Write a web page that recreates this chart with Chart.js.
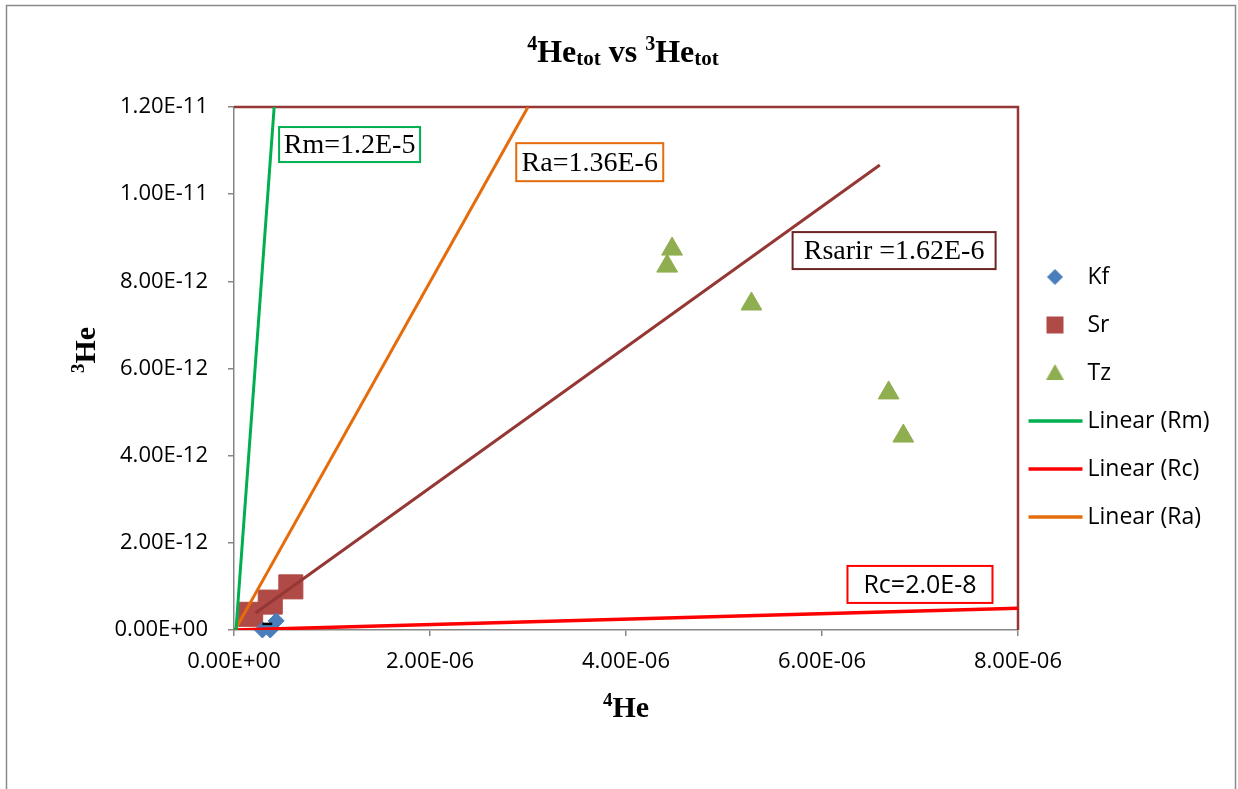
<!DOCTYPE html>
<html>
<head>
<meta charset="utf-8">
<script src="https://cdn.jsdelivr.net/npm/chart.js@4"></script>
<style>
html,body{margin:0;padding:0;background:#fff;}
canvas{display:block;}
</style>
</head>
<body>
<canvas id="c" width="1238" height="789"></canvas>
<script>
// ---------- data ----------
const kfHe4 = [0.29e-6, 0.37e-6, 0.43e-6];
const kfHe3 = [0.0, 0.0, 0.21e-12];
const srHe4 = [0.17e-6, 0.37e-6, 0.58e-6];
const srHe3 = [0.36e-12, 0.64e-12, 0.99e-12];
const tzHe4 = [4.47e-6, 4.42e-6, 5.28e-6, 6.68e-6, 6.83e-6];
const tzHe3 = [8.74e-12, 8.35e-12, 7.48e-12, 5.44e-12, 4.45e-12];
const rmHe4 = [0.02e-6, 0.41e-6];
const rmHe3 = [0.0, 12.0e-12];
const rcHe4 = [0.0, 8.0e-6];
const rcHe3 = [0.0, 0.5e-12];
const raHe4 = [0.01e-6, 3.0e-6];
const raHe3 = [0.0, 12.0e-12];
const rsHe4 = [0.22e-6, 6.59e-6];
const rsHe3 = [0.39e-12, 10.67e-12];
const dashHe4 = [0.29e-6, 0.39e-6];
const dashHe3 = [0.14e-12, 0.14e-12];

const xTickValues = [0, 2e-6, 4e-6, 6e-6, 8e-6];
const xTickLabels = ['0.00E+00', '2.00E-06', '4.00E-06', '6.00E-06', '8.00E-06'];
const yTickValues = [0, 2e-12, 4e-12, 6e-12, 8e-12, 10e-12, 12e-12];
const yTickLabels = ['0.00E+00', '2.00E-12', '4.00E-12', '6.00E-12', '8.00E-12', '1.00E-11', '1.20E-11'];

const annotationTexts = ['Rm=1.2E-5', 'Ra=1.36E-6', 'Rsarir =1.62E-6', 'Rc=2.0E-8'];
const annotationX = [0.46e-6, 2.88e-6, 5.70e-6, 6.26e-6];
const annotationY = [11.54e-12, 11.17e-12, 9.13e-12, 1.47e-12];

// ---------- styles ----------
const C_KF = '#4A7EBB', C_SR = '#B04A46', C_TZ = '#8FAE4F';
const C_RM = '#00B050', C_RC = '#FF0000', C_RA = '#E46C0A', C_RS = '#953735';
const AXIS_GRAY = '#868686';
const SANS = '"Open Sans", "DejaVu Sans", sans-serif';
const SERIF = '"Liberation Serif", "Times New Roman", serif';

const annotationStyles = [
  {color: C_RM, font: '28px ' + SERIF, w: 141, h: 35},
  {color: C_RA, font: '28px ' + SERIF, w: 147, h: 38},
  {color: '#6B2523', font: '28px ' + SERIF, w: 203, h: 37},
  {color: C_RC, font: '25px ' + SANS, w: 145, h: 37}
];

function pts(xs, ys) { return xs.map((x, i) => ({x: x, y: ys[i]})); }

// ---------- legend symbol images ----------
const LEG_W = 64, LEG_H = 22, LEG_CX = 27.5, LEG_CY = 11;
function legendImage(kind, color) {
  const c = document.createElement('canvas');
  c.width = LEG_W; c.height = LEG_H;
  const g = c.getContext('2d');
  g.fillStyle = color; g.strokeStyle = color;
  const cx = LEG_CX, cy = LEG_CY;
  g.beginPath();
  if (kind === 'diamond') {
    g.moveTo(cx - 8, cy); g.lineTo(cx, cy - 8); g.lineTo(cx + 8, cy); g.lineTo(cx, cy + 8); g.closePath(); g.fill();
  } else if (kind === 'square') {
    g.rect(cx - 8.5, cy - 8.5, 17, 17); g.fill();
  } else if (kind === 'triangle') {
    g.moveTo(cx, cy - 9); g.lineTo(cx + 9, cy + 7); g.lineTo(cx - 9, cy + 7); g.closePath(); g.fill();
  } else {
    g.lineWidth = 3.5; g.lineCap = 'butt';
    g.moveTo(1, cy); g.lineTo(55, cy); g.stroke();
  }
  return c;
}

const datasets = [
  {label: 'Linear (Rm)', data: pts(rmHe4, rmHe3), showLine: true, borderColor: C_RM, borderWidth: 3, pointRadius: 0, fill: false},
  {label: 'Linear (Rc)', data: pts(rcHe4, rcHe3), showLine: true, borderColor: C_RC, borderWidth: 3.5, pointRadius: 0, fill: false},
  {label: 'Linear (Ra)', data: pts(raHe4, raHe3), showLine: true, borderColor: C_RA, borderWidth: 3, pointRadius: 0, fill: false},
  {label: 'Rsarir', data: pts(rsHe4, rsHe3), showLine: true, borderColor: C_RS, borderWidth: 3, pointRadius: 0, fill: false},
  {label: 'bar', data: pts(dashHe4, dashHe3), showLine: true, borderColor: '#000', borderWidth: 2.5, pointRadius: 0, fill: false},
  {label: 'Kf', data: pts(kfHe4, kfHe3), pointStyle: 'rectRot', pointRadius: 8, backgroundColor: C_KF, borderColor: C_KF, borderWidth: 1, clip: false},
  {label: 'Sr', data: pts(srHe4, srHe3), pointStyle: 'rect', pointRadius: 17, backgroundColor: C_SR, borderColor: C_SR, borderWidth: 1, clip: false},
  {label: 'Tz', data: pts(tzHe4, tzHe3), pointStyle: 'triangle', pointRadius: 12, backgroundColor: C_TZ, borderColor: C_TZ, borderWidth: 1, clip: false}
];

const legendOrder = [5, 6, 7, 0, 1, 2];
const legendKinds = {5: 'diamond', 6: 'square', 7: 'triangle', 0: 'line', 1: 'line', 2: 'line'};
const legendColors = {5: C_KF, 6: C_SR, 7: C_TZ, 0: C_RM, 1: C_RC, 2: C_RA};
const legendImgs = {};
legendOrder.forEach(i => { legendImgs[i] = legendImage(legendKinds[i], legendColors[i]); });

// legend geometry
const LEG_FONT = 23, LEG_PAD = 25, LEG_BOX = 33;
const mctx = document.createElement('canvas').getContext('2d');
mctx.font = LEG_FONT + 'px ' + SANS;
let maxTxt = 0;
legendOrder.forEach(i => { maxTxt = Math.max(maxTxt, mctx.measureText(datasets[i].label).width); });
const legendWidth = LEG_PAD + LEG_BOX + LEG_FONT / 2 + maxTxt + 10;
const PLOT_RIGHT = 1018;
const padRight = Math.max(0, 1238 - PLOT_RIGHT - legendWidth);

// ---------- custom drawing ----------
function drawRich(ctx, parts, cx, baseline) {
  let total = 0;
  parts.forEach(p => { ctx.font = p.font; p.w = ctx.measureText(p.t).width; total += p.w; });
  let x = cx - total / 2;
  ctx.textAlign = 'left';
  ctx.textBaseline = 'alphabetic';
  parts.forEach(p => { ctx.font = p.font; ctx.fillText(p.t, x, baseline + (p.dy || 0)); x += p.w; });
}

const decor = {
  id: 'decor',
  beforeDraw(chart) {
    const ctx = chart.ctx;
    ctx.save();
    ctx.fillStyle = '#fff';
    ctx.fillRect(0, 0, chart.width, chart.height);
    ctx.strokeStyle = '#8a8a8a';
    ctx.lineWidth = 1.5;
    ctx.strokeRect(6.5, 5.5, 1229, 800);
    ctx.restore();
  },
  beforeDatasetsDraw(chart) {
    const a = chart.chartArea, ctx = chart.ctx;
    ctx.save();
    ctx.strokeStyle = C_RS;
    ctx.lineWidth = 2.5;
    ctx.beginPath();
    ctx.moveTo(a.left, a.top);
    ctx.lineTo(a.right, a.top);
    ctx.lineTo(a.right, a.bottom);
    ctx.stroke();
    ctx.restore();
  },
  afterDraw(chart) {
    const ctx = chart.ctx, a = chart.chartArea;
    const xs = chart.scales.x, ys = chart.scales.y;
    ctx.save();
    ctx.fillStyle = '#000';
    const B = 'bold ';
    // title
    drawRich(ctx, [
      {t: '4', font: B + '20px ' + SERIF, dy: -12},
      {t: 'He', font: B + '32px ' + SERIF},
      {t: 'tot', font: B + '21px ' + SERIF, dy: 3},
      {t: ' vs ', font: B + '32px ' + SERIF},
      {t: '3', font: B + '20px ' + SERIF, dy: -12},
      {t: 'He', font: B + '32px ' + SERIF},
      {t: 'tot', font: B + '21px ' + SERIF, dy: 3}
    ], 623, 62);
    // x axis title
    drawRich(ctx, [
      {t: '4', font: B + '19px ' + SERIF, dy: -11},
      {t: 'He', font: B + '30px ' + SERIF}
    ], (a.left + a.right) / 2, 717);
    // y axis title
    ctx.save();
    ctx.translate(95, 350);
    ctx.rotate(-Math.PI / 2);
    drawRich(ctx, [
      {t: '3', font: B + '19px ' + SERIF, dy: -11},
      {t: 'He', font: B + '30px ' + SERIF}
    ], 0, 0);
    ctx.restore();
    // annotation boxes
    annotationTexts.forEach((t, i) => {
      const st = annotationStyles[i];
      const px = xs.getPixelForValue(annotationX[i]);
      const py = ys.getPixelForValue(annotationY[i]);
      ctx.fillStyle = '#fff';
      ctx.fillRect(px, py, st.w, st.h);
      ctx.strokeStyle = st.color;
      ctx.lineWidth = 2;
      ctx.strokeRect(px, py, st.w, st.h);
      ctx.fillStyle = '#000';
      ctx.font = st.font;
      ctx.textAlign = 'center';
      ctx.textBaseline = 'middle';
      ctx.fillText(t, px + st.w / 2, py + st.h / 2 + 1);
    });
    ctx.restore();
  }
};

new Chart(document.getElementById('c'), {
  type: 'scatter',
  data: {datasets: datasets},
  plugins: [decor],
  options: {
    responsive: false,
    animation: false,
    layout: {padding: {top: 107, left: 0, right: padRight, bottom: 102}},
    plugins: {
      title: {display: false},
      tooltip: {enabled: false},
      legend: {
        position: 'right',
        align: 'center',
        labels: {
          usePointStyle: true,
          pointStyleWidth: LEG_BOX,
          padding: LEG_PAD,
          color: '#000',
          font: {family: SANS, size: LEG_FONT},
          generateLabels(chart) {
            return legendOrder.map(i => ({
              text: chart.data.datasets[i].label,
              pointStyle: legendImgs[i],
              fillStyle: 'rgba(0,0,0,0)',
              strokeStyle: 'rgba(0,0,0,0)',
              lineWidth: 0,
              hidden: !chart.isDatasetVisible(i),
              datasetIndex: i,
              fontColor: '#000'
            }));
          }
        }
      }
    },
    scales: {
      x: {
        type: 'linear',
        min: 0, max: 8e-6,
        afterBuildTicks(s) { s.ticks = xTickValues.map(v => ({value: v})); },
        afterFit(s) { s.height = 57; },
        ticks: {
          callback: (v, i) => xTickLabels[i],
          color: '#000',
          font: {family: SANS, size: 22},
          padding: 13,
          maxRotation: 0
        },
        grid: {display: true, drawOnChartArea: false, drawTicks: true, tickLength: 6, color: AXIS_GRAY, lineWidth: 1.5},
        border: {display: true, color: AXIS_GRAY, width: 1.5}
      },
      y: {
        type: 'linear',
        min: 0, max: 12e-12,
        afterBuildTicks(s) { s.ticks = yTickValues.map(v => ({value: v})); },
        afterFit(s) { s.width = 234; },
        ticks: {
          callback: (v, i) => yTickLabels[i],
          color: '#000',
          font: {family: SANS, size: 22},
          padding: 20
        },
        grid: {display: true, drawOnChartArea: false, drawTicks: true, tickLength: 6, color: AXIS_GRAY, lineWidth: 1.5},
        border: {display: true, color: AXIS_GRAY, width: 1.5}
      }
    }
  }
});
</script>
</body>
</html>
